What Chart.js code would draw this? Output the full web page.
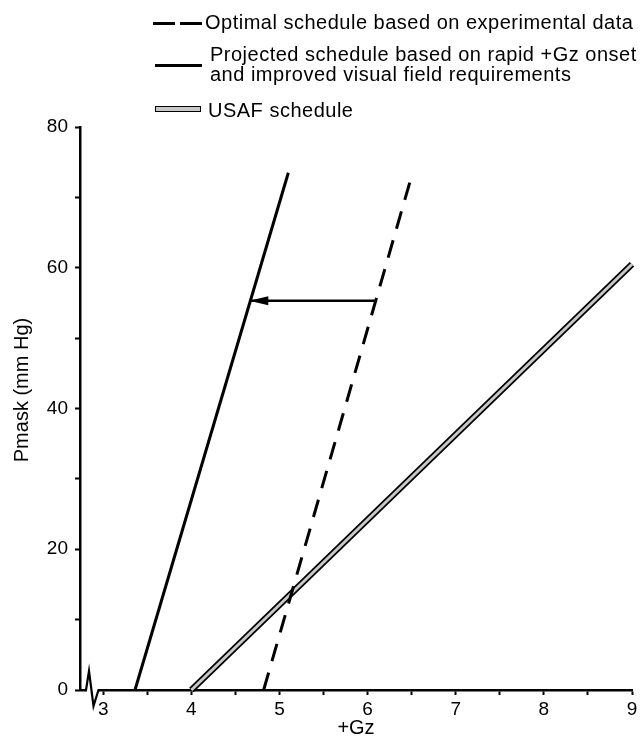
<!DOCTYPE html>
<html>
<head>
<meta charset="utf-8">
<script src="https://cdn.jsdelivr.net/npm/chart.js@4.4.1/dist/chart.umd.min.js"></script>
<style>
  body { margin: 0; background: #fff; }
  #wrap { position: relative; width: 641px; height: 740px; }
  .lg { position: absolute; font-family: "Liberation Sans", Arial, sans-serif; font-size: 20px;
        line-height: 20px; letter-spacing: 0.5px; color: #000; white-space: nowrap; }
  .sw { position: absolute; }
</style>
</head>
<body>
<div id="wrap">
  <canvas id="myChart"></canvas>
  <!-- legend -->
  <div class="sw" style="left:153px;top:22px;width:22px;height:2.5px;background:#000"></div>
  <div class="sw" style="left:180px;top:22px;width:22px;height:2.5px;background:#000"></div>
  <div class="lg" style="left:205px;top:12px">Optimal schedule based on experimental data</div>
  <div class="sw" style="left:155px;top:64px;width:47px;height:2.5px;background:#000"></div>
  <div class="lg" style="left:210px;top:44px">Projected schedule based on rapid +Gz onset</div>
  <div class="lg" style="left:210px;top:64px">and improved visual field requirements</div>
  <div class="sw" style="left:155px;top:106px;width:44px;height:3.5px;background:#c8c8c8;border:1.5px solid #000"></div>
  <div class="lg" style="left:208px;top:100px">USAF schedule</div>
</div>
<script>
// datos
const optimalGz = [4.82, 6.51];
const optimalP = [0, 73.5];
const projectedGz = [3.36, 5.1];
const projectedP = [0, 73.5];
const usafGz = [4, 9];
const usafP = [0, 60.5];
const arrowGz = [6.08, 4.68];
const arrowP = [55.3, 55.3];
const xTicks = [3, 3.5, 4, 4.5, 5, 5.5, 6, 6.5, 7, 7.5, 8, 8.5, 9];
const yTicks = [0, 10, 20, 30, 40, 50, 60, 70, 80];
const yLabels = [0, 20, 40, 60, 80];
const yTitle = 'Pmask (mm Hg)';

const pts = (xs, ys) => xs.map((x, i) => ({x: x, y: ys[i]}));

// punta de flecha, corte del eje x y titulo del eje y
const extras = {
  id: 'extras',
  afterDatasetsDraw(chart) {
    const c = chart.ctx;
    const p2 = chart.getDatasetMeta(4).data[1];
    c.save();
    c.fillStyle = '#000';
    c.beginPath();
    c.moveTo(p2.x - 2, p2.y);
    c.lineTo(p2.x + 17, p2.y - 4.5);
    c.lineTo(p2.x + 17, p2.y + 4.5);
    c.closePath();
    c.fill();
    c.restore();
  },
  afterDraw(chart) {
    const c = chart.ctx;
    const x0 = chart.scales.x.left;
    const y0 = chart.scales.x.top;
    c.save();
    c.fillStyle = '#fff';
    c.fillRect(x0 + 7, y0 - 2, 12, 4);
    c.strokeStyle = '#000';
    c.lineWidth = 2.2;
    c.beginPath();
    c.moveTo(x0 + 6, y0);
    c.lineTo(x0 + 9, y0 - 19);
    c.lineTo(x0 + 13.5, y0 + 16);
    c.lineTo(x0 + 18.5, y0);
    c.lineTo(x0 + 20, y0);
    c.stroke();
    // titulo eje y, un poco por encima del centro como en el original
    c.translate(22, chart.chartArea.top + 263);
    c.rotate(-Math.PI / 2);
    c.fillStyle = '#000';
    c.font = '20px "Liberation Sans", Arial, sans-serif';
    c.textAlign = 'center';
    c.textBaseline = 'middle';
    c.fillText(yTitle, 0, 0);
    c.restore();
  }
};

Chart.defaults.font.family = '"Liberation Sans", Arial, sans-serif';
Chart.defaults.color = '#000';

const ctx = document.getElementById('myChart');
const myChart = new Chart(ctx, {
  type: 'line',
  data: {
    datasets: [
      { label: 'Optimal schedule based on experimental data', data: pts(optimalGz, optimalP),
        borderColor: '#000', borderWidth: 3, borderDash: [18, 12], pointRadius: 0, clip: false },
      { label: 'Projected schedule based on rapid +Gz onset and improved visual field requirements',
        data: pts(projectedGz, projectedP), borderColor: '#000', borderWidth: 3, pointRadius: 0, clip: false },
      // relleno gris encima del borde negro
      { label: 'USAF schedule', data: pts(usafGz, usafP),
        borderColor: '#c8c8c8', borderWidth: 3, pointRadius: 0, clip: false },
      { label: 'USAF schedule (borde)', data: pts(usafGz, usafP),
        borderColor: '#000', borderWidth: 6.5, pointRadius: 0, clip: false },
      { label: 'flecha', data: pts(arrowGz, arrowP),
        borderColor: '#000', borderWidth: 2.5, pointRadius: 0, clip: false }
    ]
  },
  options: {
    responsive: true,
    maintainAspectRatio: false,
    animation: false,
    devicePixelRatio: 1,
    layout: { padding: { top: 127, left: 0, right: 9, bottom: 0 } },
    plugins: { legend: { display: false }, tooltip: { enabled: false } },
    elements: { line: { tension: 0, borderCapStyle: 'butt' } },
    scales: {
      x: {
        type: 'linear',
        min: 2.736,
        max: 9,
        afterBuildTicks: (s) => { s.ticks = xTicks.map(v => ({value: v})); },
        afterFit: (s) => { s.height = 50; },
        grid: { drawOnChartArea: false, drawTicks: true, tickLength: 5, tickWidth: 2, color: '#000' },
        border: { display: true, color: '#000', width: 2.5 },
        ticks: {
          autoSkip: false, maxRotation: 0, padding: 3,
          font: { size: 19 },
          callback: (v) => Number.isInteger(v) ? String(v) : ''
        },
        title: { display: true, text: '+Gz', font: { size: 20 }, padding: { top: 0, bottom: 0 } }
      },
      y: {
        min: 0,
        max: 80,
        afterBuildTicks: (s) => { s.ticks = yTicks.map(v => ({value: v})); },
        afterFit: (s) => { s.width = 80; },
        grid: { drawOnChartArea: false, drawTicks: true, tickLength: 5, tickWidth: 2, color: '#000' },
        border: { display: true, color: '#000', width: 2.5 },
        ticks: {
          autoSkip: false, padding: 7,
          font: { size: 19 },
          callback: (v) => yLabels.includes(v) ? String(v) : ''
        },
        title: { display: false }
      }
    }
  },
  plugins: [extras]
});
</script>
</body>
</html>
